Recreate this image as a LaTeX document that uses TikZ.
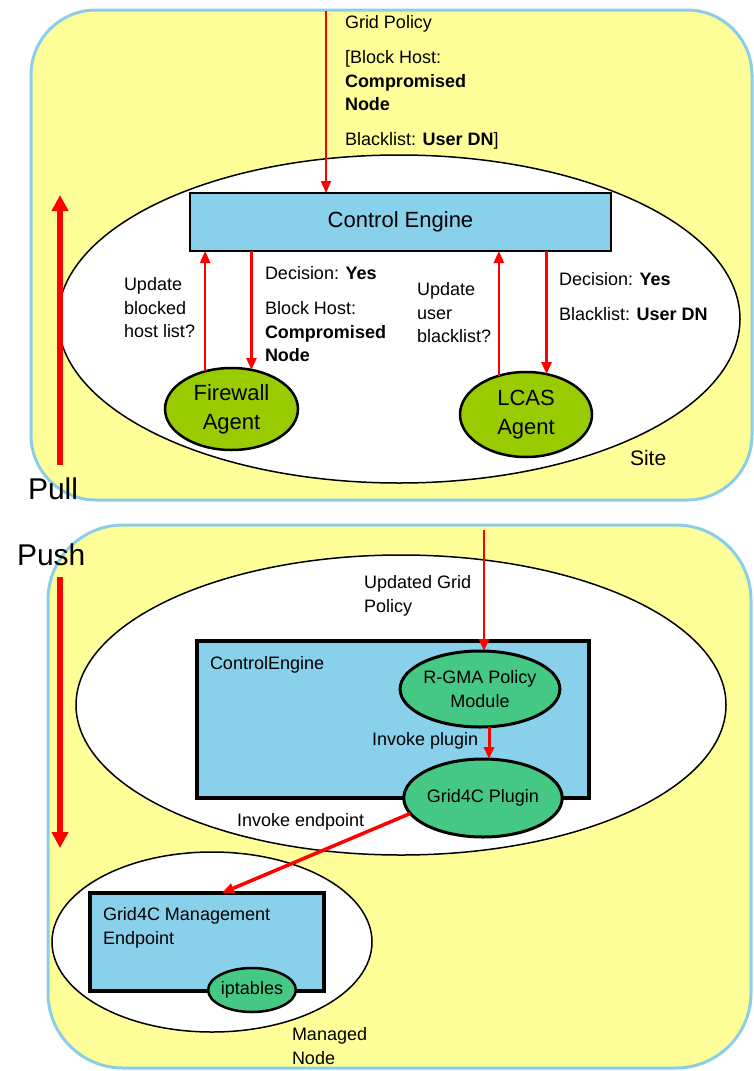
\documentclass[tikz,border=0pt]{standalone}
\usepackage{fontspec}
\setmainfont{Liberation Sans}
\usetikzlibrary{shapes.geometric,arrows.meta,positioning}

\definecolor{padyellow}{RGB}{255,255,153}
\definecolor{padedge}{RGB}{140,206,234}
\definecolor{boxblue}{RGB}{137,208,234}
\definecolor{agentgreen}{RGB}{153,204,0}
\definecolor{modgreen}{RGB}{69,200,132}

\newcommand{\txtsmall}{\fontsize{18}{23.5}\selectfont}
\newcommand{\txtbig}{\fontsize{22}{29}\selectfont}
\newcommand{\txthuge}{\fontsize{30}{36}\selectfont}

\begin{document}
\begin{tikzpicture}[x=1pt,y=1pt,
    every node/.append style={inner sep=0pt, outer sep=0pt},
    pad/.style={draw=padedge, fill=padyellow, line width=3},
    zone/.style={draw=black, fill=white, line width=1.5},
    engine/.style={rectangle, draw=black, fill=boxblue, line width=2},
    agent/.style={ellipse, draw=black, fill=agentgreen, line width=2.5, align=center, font=\txtbig},
    module/.style={ellipse, draw=black, fill=modgreen, line width=3, align=center, font=\txtsmall},
    note/.style={align=left, font=\txtsmall},
    flow/.style={draw=red, line width=2.5, -{Triangle[length=12,width=10]}},
    sweep/.style={draw=red, line width=6, -{Triangle[length=16,width=16]}}]
    \useasboundingbox (0,0) rectangle (753,-1071);

    % pull side: site
    \draw [pad, rounded corners=65] (31,-10) rectangle (752,-500);
    \draw [zone] (399,-319) ellipse (341 and 164);
    \node [engine, minimum width=421, minimum height=58, font=\txtbig] (ce) at (400.5,-222) {Control Engine};
    \node [agent, minimum width=133, minimum height=82] (fw) at (231.5,-409) {Firewall\\Agent};
    \node [agent, minimum width=132, minimum height=85] (lcas) at (526,-414.5) {LCAS\\Agent};
    \node [note, anchor=north west] (gp) at (345,-15.5) {Grid Policy\\[11.5pt][Block Host:\\\textbf{Compromised}\\\textbf{Node}\\[11.5pt]Blacklist: \textbf{User DN}]};
    \node [note, anchor=north west] (fwask) at (124,-277.5) {Update\\blocked\\host list?};
    \node [note, anchor=north west] (fwsay) at (265,-266.5) {Decision: \textbf{Yes}\\[11.5pt]Block Host:\\\textbf{Compromised}\\\textbf{Node}};
    \node [note, anchor=north west] (lcask) at (417,-282.5) {Update\\user\\blacklist?};
    \node [note, anchor=north west] (lcasay) at (559,-272.5) {Decision: \textbf{Yes}\\[11.5pt]Blacklist: \textbf{User DN}};
    \node [anchor=north west, font=\fontsize{21}{25}\selectfont] (site) at (630,-450) {Site};
    \coordinate (gpin) at (326,-11);
    \draw [flow, line width=2] (gpin) -- (gpin |- ce.north);
    \draw [flow] (fw.125) -- (fw.125 |- ce.south);
    \draw [flow] (fw.63 |- ce.south) -- (fw.63);
    \draw [flow] (lcas.125) -- (lcas.125 |- ce.south);
    \draw [flow] (lcas.63 |- ce.south) -- (lcas.63);
    \node [anchor=base west, font=\txthuge] (pull) at (28,-499) {Pull};
    \coordinate (pullfoot) at (60,-465);
    \coordinate (pulltop) at (60,-195);
    \draw [sweep] (pullfoot) -- (pulltop);

    % push side: managed node
    \draw [pad, rounded corners=75] (48,-525) rectangle (751,-1068);
    \draw [zone] (401,-705) ellipse (325 and 150);
    \node [engine, line width=3.5, minimum width=392, minimum height=157] (ceb) at (393,-719.5) {};
    \node [note, anchor=base west] (cebname) at (210,-669.5) {ControlEngine};
    \node [module, minimum width=148, minimum height=76] (rgma) at (480,-689) {R-GMA Policy\\Module};
    \node [module, minimum width=146, minimum height=78] (plugin) at (483,-798) {Grid4C Plugin};
    \node [note, anchor=north west] (upd) at (364,-575.5) {Updated Grid\\Policy};
    \node [note, anchor=base west] (invplug) at (372,-745.5) {Invoke plugin};
    \node [note, anchor=base west] (invend) at (237,-826.5) {Invoke endpoint};
    \coordinate (upin) at (484,-530);
    \draw [flow] (upin) -- (upin |- rgma.north);
    \draw [flow, line width=3] ([xshift=9]rgma.south) -- ([xshift=9]rgma.south |- plugin.north);

    \draw [zone] (212,-942) ellipse (160 and 90);
    \node [engine, line width=3.5, minimum width=234, minimum height=98] (mgmt) at (207,-942) {};
    \node [note, anchor=north west] (mgmtname) at (103,-907.5) {Grid4C Management\\Endpoint};
    \node [module, line width=2.5, minimum width=78, minimum height=44] (ipt) at (252,-990) {iptables};
    \node [note, anchor=north west] (mn) at (292,-1027.5) {Managed\\Node};
    \draw [flow, line width=3.5] (plugin.192) -- ([xshift=15]mgmt.north);
    \node [anchor=base west, font=\txthuge] (push) at (17,-565) {Push};
    \coordinate (pushtop) at (60,-577);
    \coordinate (pushfoot) at (60,-848);
    \draw [sweep] (pushtop) -- (pushfoot);
\end{tikzpicture}
\end{document}
